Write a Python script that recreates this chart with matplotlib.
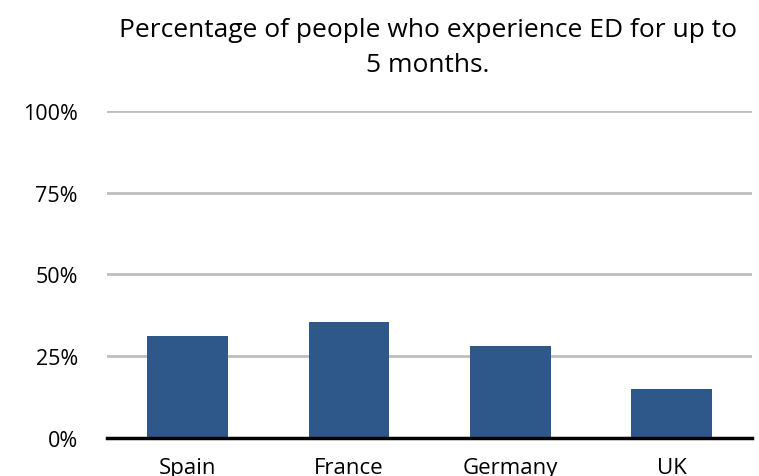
import matplotlib.pyplot as plt
from matplotlib.ticker import PercentFormatter

countries = ['Spain', 'France', 'Germany', 'UK']
percent = [31.2, 35.5, 28.2, 15.0]
yticks = [0, 25, 50, 75, 100]

plt.rcParams['font.family'] = ['Open Sans', 'DejaVu Sans']

fig = plt.figure(figsize=(7.59, 4.77), dpi=100)
ax = fig.add_axes([0.141, 0.080, 0.850, 0.685])

ax.bar(countries, percent, width=0.5, color='#2E5889', zorder=3)
ax.set_xlim(-0.5, 3.5)
ax.set_ylim(0, 100)
ax.set_yticks(yticks)
ax.yaxis.set_major_formatter(PercentFormatter(decimals=0))
ax.grid(axis='y', color='#BEBEBE', linewidth=2, zorder=0)
ax.axhline(0, color='black', linewidth=2.5, zorder=4, clip_on=False)

for s in ['top', 'right', 'left', 'bottom']:
    ax.spines[s].set_visible(False)
ax.tick_params(axis='y', length=0, pad=21, labelsize=15.5)
ax.tick_params(axis='x', length=0, pad=14, labelsize=16)

fig.suptitle('Percentage of people who experience ED for up to\n5 months.',
             x=0.564, y=0.962, fontsize=19, linespacing=1.5)

fig.savefig('out.png', dpi=100)
